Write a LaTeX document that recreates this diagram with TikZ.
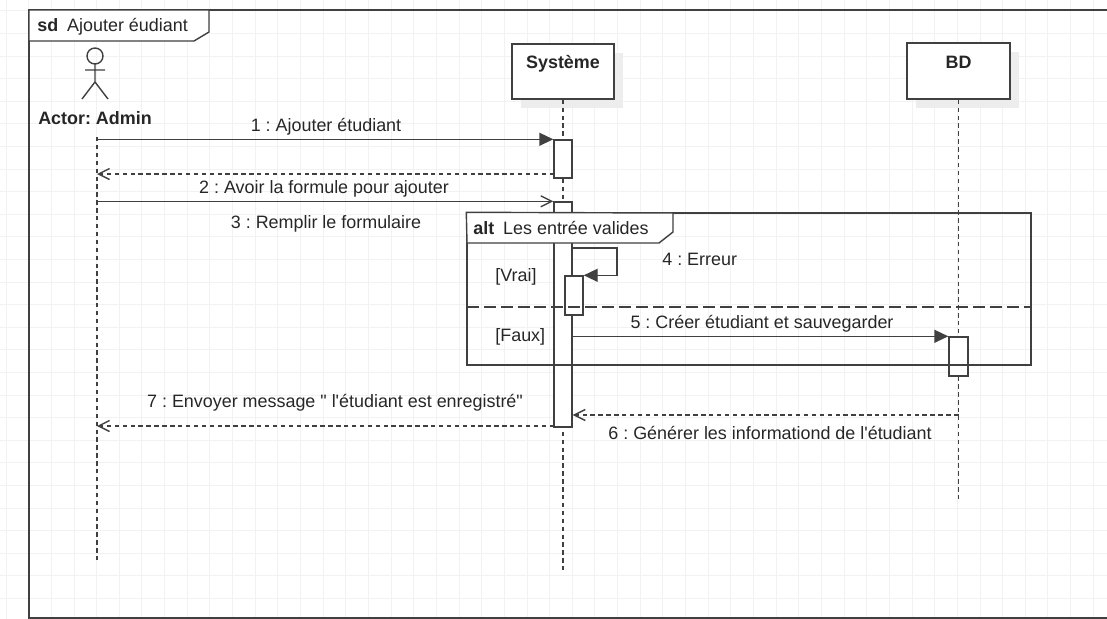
\documentclass[tikz,border=0pt]{standalone}
\usepackage{fontspec}
\setmainfont{Liberation Sans}[Ligatures=TeXOff]
\frenchspacing
\usetikzlibrary{arrows.meta,fit,shadows}

\tikzset{
ln/.style={draw=black!75, line width=0.8pt},
gridln/.style={draw=black!5, line width=0.5pt},
txt/.style={font=\fontsize{10.2}{12}\selectfont, text=black!85, inner sep=0pt},
headbox/.style={ln, fill=white, inner sep=0pt, drop shadow={shadow xshift=0.18cm, shadow yshift=-0.18cm, fill=black!7, opacity=1}},
actbox/.style={ln, fill=white, inner sep=0pt},
lifeline/.style={ln, dash pattern=on 2.5pt off 2pt},
call/.style={ln, -{Triangle[length=0.28cm, width=0.26cm]}},
send/.style={ln, -{Straight Barb[length=0.22cm, width=0.22cm]}},
reply/.style={send, dash pattern=on 2.5pt off 2pt}
}

\begin{document}
\begin{tikzpicture}[x=0.02cm, y=-0.02cm]
\useasboundingbox (0,0) rectangle (1107,619);
\foreach \gx in {6,28.65,...,1107} \draw[gridln] (\gx,0) -- (\gx,619);
\foreach \gy in {10.8,33.4,...,619} \draw[gridln] (0,\gy) -- (1107,\gy);

\draw[ln] (1107,10) -- (29,10) -- (29,618) -- (1107,618);
\draw[ln, fill=white] (29,10) -- (209,10) -- (209,32) -- (194,41) -- (29,41) -- cycle;
\node[txt, anchor=base west] (sdname) at (37,31) {\textbf{sd}\enspace Ajouter éudiant};

\draw[ln] (95,56) circle [radius=8];
\draw[ln] (95,64) -- (95,82) (85,70) -- (105,70) (82,99) -- (95,82) -- (108,99);
\node[txt, anchor=base] (admin) at (95,124) {\textbf{Actor: Admin}};

\node[headbox, fit={(512,44) (614,99)}] (sys) {};
\node[txt, anchor=base] (sysname) at (563,68) {\textbf{Système}};
\node[headbox, fit={(907,43) (1010,99)}] (bd) {};
\node[txt, anchor=base] (bdname) at (958.5,68) {\textbf{BD}};

\coordinate (lA) at (97,137);
\coordinate (lAend) at (97,563);
\coordinate (lSend) at (563,570);
\coordinate (lBend) at (958.5,502);
\draw[lifeline] (lA) -- (lAend);
\draw[lifeline] (sys.south) -- (lSend);
\draw[lifeline] (bd.south) -- (lBend);

\node[actbox, fit={(554,140) (572,178)}] (act1) {};
\node[actbox, fit={(554,202) (572,427)}] (act2) {};
\node[actbox, fit={(565,276) (583,315)}] (act3) {};
\node[actbox, fit={(949,337) (968,376)}] (act4) {};

\coordinate (r1) at (554,174);
\coordinate (s4) at (572,248);
\coordinate (r6) at (958.5,415);
\coordinate (r7) at (554,426);
\draw[call] (lA |- act1.north) -- (act1.north west);
\draw[reply] (r1) -- (lA |- r1);
\draw[send] (lA |- act2.north) -- (act2.north west);
\draw[call] (s4) -- ++(45,0) |- (act3.north east);
\draw[call] (act2.east |- act4.north) -- (act4.north west);
\draw[reply] (r6) -- (act2.east |- r6);
\draw[reply] (r7) -- (lA |- r7);

\node[ln, inner sep=0pt, fit={(467,213) (1031,365)}] (alt) {};
\draw[ln, fill=white] (alt.north west) -- (673,213) -- (673,232) -- (659,243) -- (467,243) -- cycle;
\coordinate (sep) at (467,307);
\draw[ln, dash pattern=on 6.8pt off 2.8pt] (sep) -- (alt.east |- sep);

\node[txt, anchor=base] (m1) at (326,131) {1 : Ajouter étudiant};
\node[txt, anchor=base] (m2) at (324,193) {2 : Avoir la formule pour ajouter};
\node[txt, anchor=base] (m3) at (326,228) {3 : Remplir le formulaire};
\node[txt, anchor=base west] (alttitle) at (473,234) {\textbf{alt}\enspace Les entrée valides};
\node[txt, anchor=base west] (vrai) at (495,281) {[Vrai]};
\node[txt, anchor=base west] (faux) at (495,341) {[Faux]};
\node[txt, anchor=base west] (m4) at (662,265) {4 : Erreur};
\node[txt, anchor=base] (m5) at (762,328) {5 : Créer étudiant et sauvegarder};
\node[txt, anchor=base] (m6) at (770,439) {6 : Générer les informationd de l'étudiant};
\node[txt, anchor=base] (m7) at (335,407) {7 : Envoyer message " l'étudiant est enregistré"};
\end{tikzpicture}
\end{document}
